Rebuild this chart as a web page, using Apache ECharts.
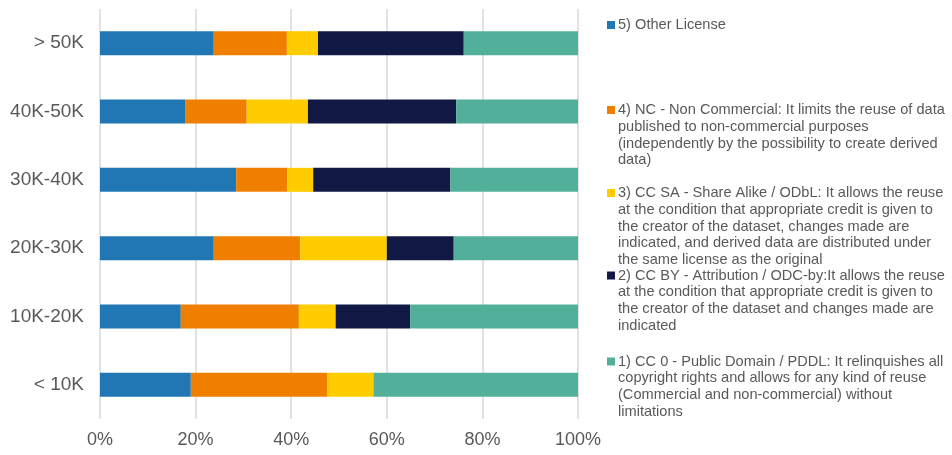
<!DOCTYPE html>
<html>
<head>
<meta charset="utf-8">
<script src="https://cdn.jsdelivr.net/npm/echarts@6/dist/echarts.min.js"></script>
<style>html,body{margin:0;padding:0;background:#fff}#c{width:952px;height:455px}</style>
</head>
<body>
<div id="c"></div>
<script>
const categories = ['< 10K', '10K-20K', '20K-30K', '30K-40K', '40K-50K', '> 50K'];
const otherLicense = [19.0, 16.9, 23.8, 28.5, 17.8, 23.8];
const nonCommercial = [28.5, 24.7, 18.1, 10.7, 12.9, 15.3];
const shareAlike = [9.7, 7.7, 18.1, 5.4, 12.8, 6.5];
const attribution = [0, 15.6, 14.0, 28.7, 31.0, 30.5];
const publicDomain = [42.8, 35.1, 26.0, 26.7, 25.5, 23.9];
const xTicks = [0, 20, 40, 60, 80, 100];

const lines5 = ['5) Other License'];
const lines4 = ['4) NC - Non Commercial: It limits the reuse of data', 'published to non-commercial purposes', '(independently by the possibility to create derived', 'data)'];
const lines3 = ['3) CC SA - Share Alike / ODbL: It allows the reuse', 'at the condition that appropriate credit is given to', 'the creator of the dataset, changes made are', 'indicated, and derived data are distributed under', 'the same license as the original'];
const lines2 = ['2) CC BY - Attribution / ODC-by:It allows the reuse', 'at the condition that appropriate credit is given to', 'the creator of the dataset and changes made are', 'indicated'];
const lines1 = ['1) CC 0 - Public Domain / PDDL: It relinquishes all', 'copyright rights and allows for any kind of reuse', '(Commercial and non-commercial) without', 'limitations'];

const colors = ['#2077B4', '#F07F00', '#FFCC00', '#111844', '#52B09A'];
const seriesDefs = [
  {lines: lines5, data: otherLicense, iconY: 25},
  {lines: lines4, data: nonCommercial, iconY: 110},
  {lines: lines3, data: shareAlike, iconY: 193},
  {lines: lines2, data: attribution, iconY: 275.5},
  {lines: lines1, data: publicDomain, iconY: 361.5}
];
const LH = 16.8;
const FONT = 'Liberation Sans, Arial, sans-serif';

const chart = echarts.init(document.getElementById('c'), null, {renderer: 'canvas'});
const legends = seriesDefs.map((d, i) => {
  const n = d.lines.length;
  const name = d.lines.join(' ');
  return {
    data: [name],
    left: 607,
    top: d.iconY - (2 * n - 1) * LH / 2,
    padding: 0,
    orient: 'vertical',
    itemWidth: 8,
    itemHeight: 8,
    icon: 'rect',
    selectedMode: false,
    formatter: function () { return '\n'.repeat(n - 1) + d.lines.join('\n'); },
    textStyle: {color: '#595959', fontSize: 14.6, fontFamily: FONT, lineHeight: LH, padding: [0, 0, 0, -2]}
  };
});

chart.setOption({
  animation: false,
  color: colors,
  legend: legends,
  grid: {left: 100, right: 374, top: 9, bottom: 36, containLabel: false},
  xAxis: {
    type: 'value', min: xTicks[0], max: xTicks[xTicks.length - 1], interval: 20,
    axisLine: {show: false}, axisTick: {show: false},
    splitLine: {lineStyle: {color: '#d9d9d9', width: 1.5}},
    axisLabel: {formatter: '{value}%', color: '#595959', fontSize: 18, fontFamily: FONT, margin: 12}
  },
  yAxis: {
    type: 'category', data: categories,
    axisLine: {show: false}, axisTick: {show: false},
    axisLabel: {color: '#595959', fontSize: 19, fontFamily: FONT, margin: 16}
  },
  series: seriesDefs.map((d, i) => ({
    name: d.lines.join(' '),
    type: 'bar',
    stack: 'total',
    barWidth: 24,
    data: d.data,
    itemStyle: {color: colors[i]}
  }))
});
</script>
</body>
</html>
